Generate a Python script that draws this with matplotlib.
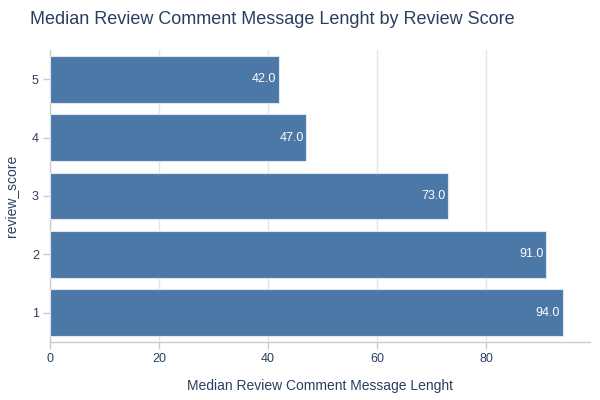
import matplotlib
matplotlib.use("Agg")
import matplotlib.pyplot as plt

plt.rcParams["font.family"] = ["Liberation Sans", "DejaVu Sans"]

scores = ["1", "2", "3", "4", "5"]
median_len = [94.0, 91.0, 73.0, 47.0, 42.0]

bar_color = "#4C78A8"
text_color = "#2a3f5f"
grid_color = "#e5e5e5"
axis_color = "#cccccc"

fig = plt.figure(figsize=(6, 4), dpi=100)
ax = fig.add_axes([50 / 600, 58 / 400, 540 / 600, 292 / 400])

ypos = list(range(len(scores)))
bars = ax.barh(ypos, median_len, height=0.8, color=bar_color,
               edgecolor="#dfe6ee", linewidth=0.8, zorder=3)

for y, v in zip(ypos, median_len):
    ax.text(v - 0.5, y, f"{v:.1f}", ha="right", va="center",
            color="white", fontsize=9, zorder=4)

ax.set_xlim(0, 99)
ax.set_ylim(-0.5, 4.5)
ax.set_yticks(ypos)
ax.set_yticklabels(scores)
ax.set_xticks([0, 20, 40, 60, 80])

ax.grid(axis="x", color=grid_color, linewidth=1, zorder=0)
for s in ["top", "right"]:
    ax.spines[s].set_visible(False)
for s in ["left", "bottom"]:
    ax.spines[s].set_color(axis_color)
    ax.spines[s].set_linewidth(1)

ax.tick_params(axis="both", colors=axis_color, labelcolor=text_color,
               labelsize=9, length=5, width=1, pad=3)

ax.set_xlabel("Median Review Comment Message Lenght", fontsize=10,
              color=text_color, labelpad=10)
ax.set_ylabel("review_score", fontsize=10, color=text_color, labelpad=10)

fig.text(30 / 600, 1 - 20 / 400, "Median Review Comment Message Lenght by Review Score",
         fontsize=13, color=text_color, ha="left", va="center")

fig.savefig("out.png", dpi=100)
